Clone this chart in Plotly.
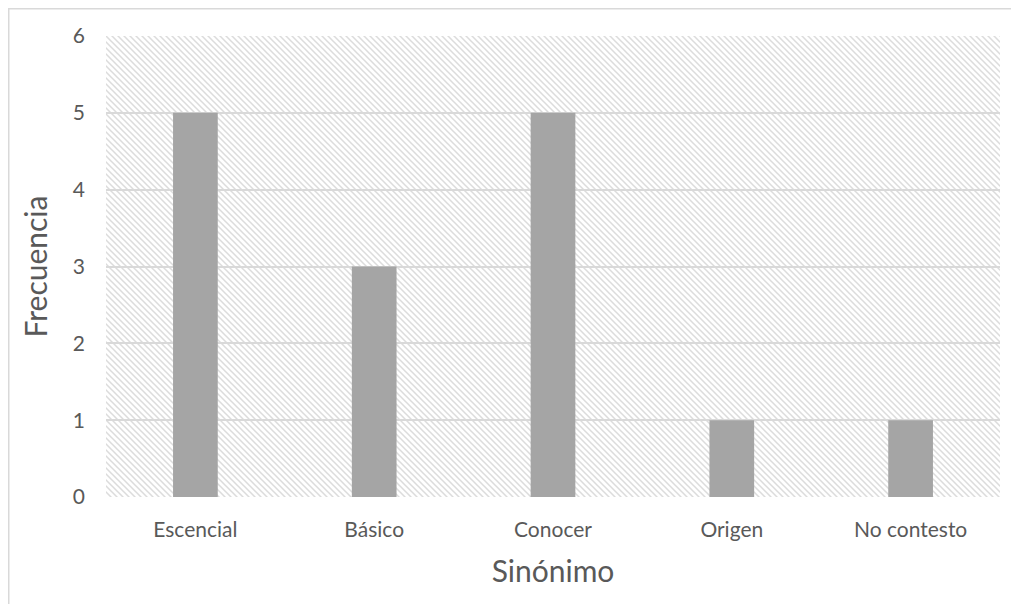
import base64
import plotly.graph_objects as go

categories = ["Escencial", "Básico", "Conocer", "Origen", "No contesto"]
values = [5, 3, 5, 1, 1]
y_ticks = [0, 1, 2, 3, 4, 5, 6]

# page has an 8px body margin, so the figure is sized to fill the rest of the window
W, H = 1011, 596
ML, MR, MT, MB = 98, 19, 28, 107
PW, PH = W - ML - MR, H - MT - MB

svg = f'''<svg xmlns="http://www.w3.org/2000/svg" width="{PW}" height="{PH}">
<defs><pattern id="p" width="6" height="6" patternUnits="userSpaceOnUse">
<rect width="6" height="6" fill="#ffffff"/>
<path d="M-1,-1 L7,7 M-4,2 L2,8 M4,-2 L10,4" stroke="#dcdcdc" stroke-width="1.5"/>
</pattern></defs>
<rect width="{PW}" height="{PH}" fill="url(#p)"/>
</svg>'''
src = "data:image/svg+xml;base64," + base64.b64encode(svg.encode()).decode()

fig = go.Figure()
fig.add_trace(go.Bar(x=categories, y=values, marker=dict(color="#a5a5a5", line=dict(width=0)),
                     width=0.25))

fig.add_layout_image(dict(source=src, xref="paper", yref="paper", x=0, y=1,
                          sizex=1, sizey=1, sizing="stretch", layer="below",
                          xanchor="left", yanchor="top"))

# outer chart border (left and top edges visible)
fig.add_shape(type="rect", xref="paper", yref="paper",
              x0=(0.75 - ML) / PW, x1=(W + 5 - ML) / PW,
              y0=-(H + 5 - MT - PH) / PH, y1=1 + (MT - 0.75) / PH,
              line=dict(color="#d9d9d9", width=1.5), fillcolor="rgba(0,0,0,0)", layer="below")

font = "Lato, 'Open Sans', sans-serif"
fig.update_layout(
    width=W, height=H,
    margin=dict(l=ML, r=MR, t=MT, b=MB),
    paper_bgcolor="white", plot_bgcolor="white",
    showlegend=False,
    font=dict(family=font, color="#595959", size=21),
    xaxis=dict(title=dict(text="Sinónimo", font=dict(size=30, color="#595959"), standoff=20),
               showgrid=False, zeroline=False, showline=False, ticks="",
               tickfont=dict(size=21), ticklabelstandoff=18),
    yaxis=dict(title=dict(text="Frecuencia", font=dict(size=30, color="#595959"), standoff=16),
               range=[0, 6], tickvals=y_ticks, showgrid=True, gridcolor="#d9d9d9", gridwidth=1.5,
               zeroline=False, showline=False, ticks="", tickfont=dict(size=21),
               ticklabelstandoff=20),
)

fig.write_html("out.html")
